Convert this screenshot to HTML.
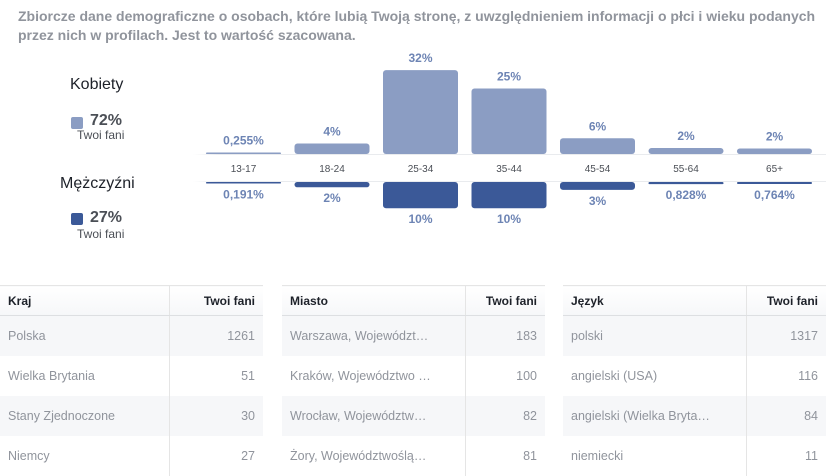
<!DOCTYPE html>
<html><head><meta charset="utf-8">
<style>
body{margin:0;width:826px;height:476px;overflow:hidden;background:#fff;font-family:"Liberation Sans",sans-serif;position:relative}
.abs{position:absolute}
.title{left:18px;top:7px;width:800px;font-size:14px;font-weight:bold;color:#90949c;line-height:19px}
.g{font-size:16px;color:#1d2129}
.pct{font-size:16px;font-weight:bold;color:#4b4f56}
.sw{width:12px;height:12px;border-radius:2px}
.sub{font-size:12px;color:#4b4f56}
table{position:absolute;top:285px;border-collapse:collapse;font-size:12px;width:263px}
th{height:29px;text-align:left;padding:0 8px;color:#1d2129;background:linear-gradient(#fff,#f6f7f9);border-top:1px solid #e5e5e5;border-bottom:1px solid #dddfe2}
td{height:40px;padding:0 8px;color:#90949c;font-size:12.5px;white-space:nowrap}
tr:nth-child(even) td{background:#f6f7f9}
th+th,td+td{text-align:right;border-left:1px solid #e5e5e5}
</style></head><body>
<div class="abs title">Zbiorcze dane demograficzne o osobach, które lubią Twoją stronę, z uwzględnieniem informacji o płci i wieku podanych przez nich w profilach. Jest to wartość szacowana.</div>
<div class="abs g" style="left:70px;top:76px">Kobiety</div>
<div class="abs sw" style="left:71px;top:117px;background:#8b9dc3"></div>
<div class="abs pct" style="left:90px;top:112px">72%</div>
<div class="abs sub" style="left:77px;top:128px">Twoi fani</div>
<div class="abs g" style="left:60px;top:175px">Mężczyźni</div>
<div class="abs sw" style="left:71px;top:213px;background:#3b5998"></div>
<div class="abs pct" style="left:90px;top:209px">27%</div>
<div class="abs sub" style="left:77px;top:227px">Twoi fani</div>
<svg class="abs" style="left:0;top:0" width="826" height="260" id="chart">
<defs><linearGradient id="fade" x1="0" x2="1"><stop offset="0" stop-color="#e9ebee" stop-opacity="0"/><stop offset="0.04" stop-color="#e9ebee"/></linearGradient></defs>
<rect x="193" y="154" width="633" height="28" fill="#fff"/>
<rect x="193" y="154" width="633" height="1" fill="url(#fade)"/>
<rect x="193" y="181" width="633" height="1" fill="url(#fade)"/>
</svg>
<script>
const categories=["13-17","18-24","25-34","35-44","45-54","55-64","65+"];
const womenValues=[0.255,4,32,25,6,2.3,2.1];
const menValues=[0.191,2,10,10,3,0.828,0.764];
const womenLabels=["0,255%","4%","32%","25%","6%","2%","2%"];
const menLabels=["0,191%","2%","10%","10%","3%","0,828%","0,764%"];
const svg=document.getElementById('chart');
const NS='http://www.w3.org/2000/svg';
const x0=206,step=88.5,bw=75,topBase=154,botBase=182;
const yScale=v=>v*2.62;
function mk(tag,attrs){const e=document.createElementNS(NS,tag);for(const k in attrs)e.setAttribute(k,attrs[k]);svg.appendChild(e);return e;}
categories.forEach((c,i)=>{
  const x=x0+i*step;
  const hw=Math.max(1.5,yScale(womenValues[i]));
  const b1=mk('rect',{x:x,y:topBase-hw,width:bw,height:hw,rx:Math.min(3,hw/2),fill:'#8b9dc3'});
  
  
  const hm=Math.max(1.5,yScale(menValues[i]));
  const b2=mk('rect',{x:x,y:botBase,width:bw,height:hm,rx:Math.min(3,hm/2),fill:'#3b5998'});
  
  
  const t1=mk('text',{x:x+bw/2,y:topBase-hw-8,'text-anchor':'middle','font-size':12,'font-weight':'bold',fill:'#6d84b4','font-family':'Liberation Sans'});
  t1.textContent=womenLabels[i];
  
  
  const t2=mk('text',{x:x+bw/2,y:botBase+hm+15,'text-anchor':'middle','font-size':12,'font-weight':'bold',fill:'#6d84b4','font-family':'Liberation Sans'});
  t2.textContent=menLabels[i];
  
  
  const t3=mk('text',{x:x+bw/2,y:172,'text-anchor':'middle','font-size':10,fill:'#4b4f56','font-family':'Liberation Sans'});
  t3.textContent=c;
  
  
});
</script>
<table style="left:0">
<tr><th>Kraj</th><th>Twoi fani</th></tr>
<tr><td>Polska</td><td>1261</td></tr>
<tr><td>Wielka Brytania</td><td>51</td></tr>
<tr><td>Stany Zjednoczone</td><td>30</td></tr>
<tr><td>Niemcy</td><td>27</td></tr>
</table>
<table style="left:282px">
<tr><th>Miasto</th><th>Twoi fani</th></tr>
<tr><td>Warszawa, Województ…</td><td>183</td></tr>
<tr><td>Kraków, Województwo …</td><td>100</td></tr>
<tr><td>Wrocław, Województw…</td><td>82</td></tr>
<tr><td>Żory, Województwoślą…</td><td>81</td></tr>
</table>
<table style="left:563px">
<tr><th>Język</th><th>Twoi fani</th></tr>
<tr><td>polski</td><td>1317</td></tr>
<tr><td>angielski (USA)</td><td>116</td></tr>
<tr><td>angielski (Wielka Bryta…</td><td>84</td></tr>
<tr><td>niemiecki</td><td>11</td></tr>
</table>
</body></html>
